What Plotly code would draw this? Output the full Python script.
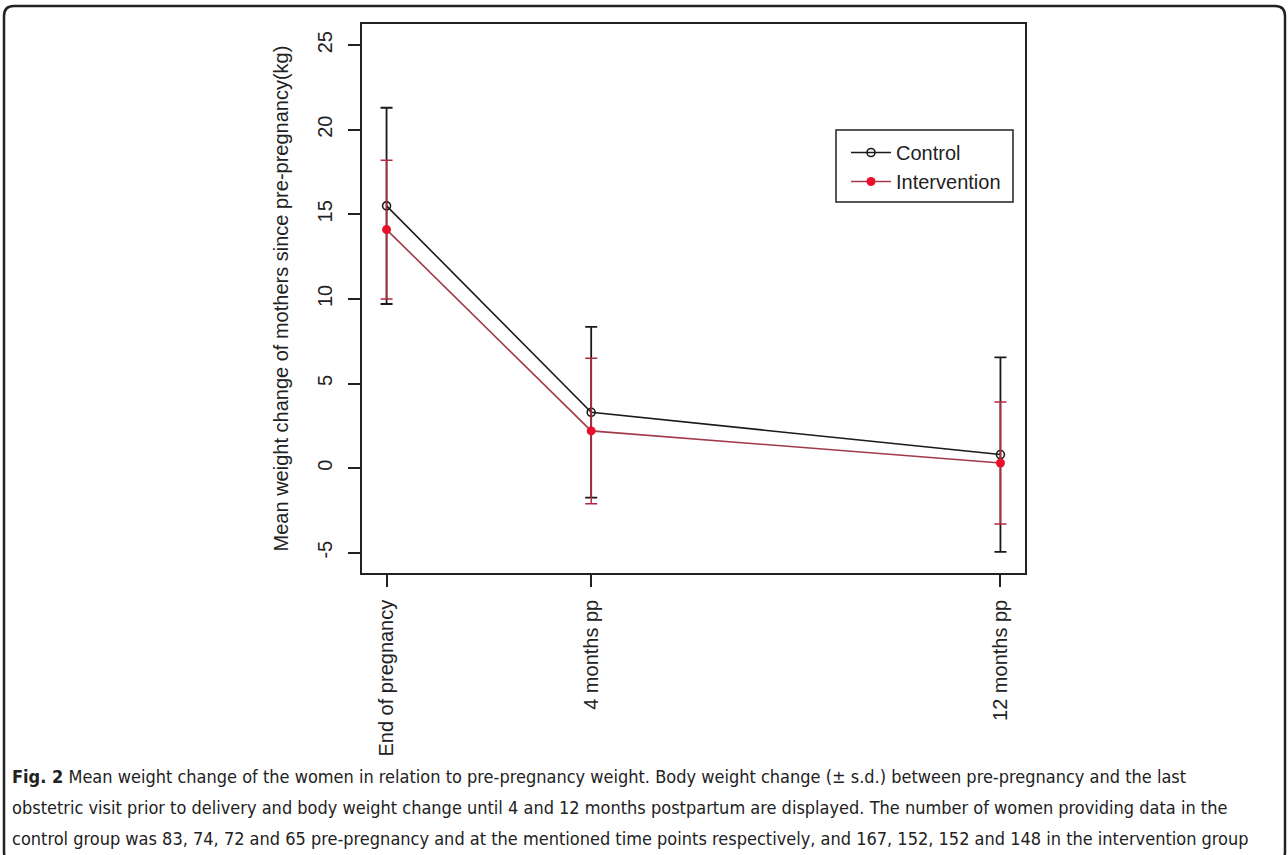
import plotly.graph_objects as go

# ---- data ----
time_months = [0, 4, 12]
tick_labels = ["End of pregnancy", "4 months pp", "12 months pp"]
control_mean = [15.5, 3.3, 0.8]
control_sd = [5.8, 5.05, 5.75]
intervention_mean = [14.1, 2.2, 0.3]
intervention_sd = [4.1, 4.3, 3.6]
y_ticks = [-5, 0, 5, 10, 15, 20, 25]

W, H = 1288, 855
L, R, T, B = 362, 1025, 24, 573  # plot area in pixels


def px(x):
    return (x - L) / (R - L)


def py(y):
    return (B - y) / (B - T)


FONT = "Liberation Sans, Arial, sans-serif"
CTRL = "#1a1a1a"
INT_LINE = "#a23a48"
INT_ERR = "#b5293f"

fig = go.Figure()
fig.add_trace(go.Scatter(
    x=time_months, y=control_mean, name="Control", mode="lines+markers",
    line=dict(color=CTRL, width=1.6),
    marker=dict(symbol="circle-open", size=8, color=CTRL, line=dict(width=1.6)),
    error_y=dict(type="data", array=control_sd, visible=True, color=CTRL,
                 thickness=1.8, width=6),
))
fig.add_trace(go.Scatter(
    x=time_months, y=intervention_mean, name="Intervention", mode="lines+markers",
    line=dict(color=INT_LINE, width=1.6),
    marker=dict(symbol="circle", size=9, color="#e8102a"),
    error_y=dict(type="data", array=intervention_sd, visible=True, color=INT_ERR,
                 thickness=1.5, width=6),
))

# outer rounded frame
fl, ft, fr, fb, r = 4, 6, 1285, 862, 10
path = (f"M {px(fl)} {py(ft + r)} Q {px(fl)} {py(ft)} {px(fl + r)} {py(ft)} "
        f"L {px(fr - r)} {py(ft)} Q {px(fr)} {py(ft)} {px(fr)} {py(ft + r)} "
        f"L {px(fr)} {py(fb - r)} Q {px(fr)} {py(fb)} {px(fr - r)} {py(fb)} "
        f"L {px(fl + r)} {py(fb)} Q {px(fl)} {py(fb)} {px(fl)} {py(fb - r)} Z")
shapes = [
    dict(type="path", xref="paper", yref="paper", path=path,
         line=dict(color="#222222", width=2.5), layer="above"),
    # legend box
    dict(type="rect", xref="paper", yref="paper",
         x0=px(836), x1=px(1013), y0=py(130), y1=py(202),
         line=dict(color="#222222", width=1.5)),
]

caption_lines = [
    "<b>Fig. 2</b> Mean weight change of the women in relation to pre-pregnancy weight. Body weight change (± s.d.) between pre-pregnancy and the last",
    "obstetric visit prior to delivery and body weight change until 4 and 12 months postpartum are displayed. The number of women providing data in the",
    "control group was 83, 74, 72 and 65 pre-pregnancy and at the mentioned time points respectively, and 167, 152, 152 and 148 in the intervention group",
]
caption_y = [776, 807, 838]
annotations = []
for line, yy in zip(caption_lines, caption_y):
    annotations.append(dict(
        text=line, xref="paper", yref="paper", x=px(10), y=py(yy),
        xanchor="left", yanchor="middle", showarrow=False, align="left",
        font=dict(family="DejaVu Sans Condensed, sans-serif",
                  size=18, color="#222222"),
    ))

fig.update_layout(
    width=W, height=H,
    margin=dict(l=L, r=W - R, t=T, b=H - B, autoexpand=False),
    paper_bgcolor="white", plot_bgcolor="white",
    font=dict(family=FONT, size=20, color="#222222"),
    showlegend=True,
    legend=dict(x=px(846), y=py(133), xanchor="left", yanchor="top",
                bgcolor="rgba(0,0,0,0)", borderwidth=0, itemwidth=40,
                font=dict(size=20), tracegroupgap=0, itemsizing="trace"),
    xaxis=dict(range=[-0.48, 12.48], tickvals=time_months, ticktext=tick_labels,
               tickangle=-90, ticks="outside", ticklen=12, tickwidth=1.5,
               tickcolor="#222222", showline=True, mirror=True, linecolor="#222222",
               linewidth=1.5, showgrid=False, zeroline=False, automargin=False,
               tickfont=dict(size=20), ticklabelstandoff=5),
    yaxis=dict(range=[-6.2, 26.25], tickvals=y_ticks, ticktext=[str(v) for v in y_ticks],
               tickangle=-90, ticks="outside", ticklen=12, tickwidth=1.5,
               tickcolor="#222222", showline=True, mirror=True, linecolor="#222222",
               linewidth=1.5, showgrid=False, zeroline=False, automargin=False,
               tickfont=dict(size=20), ticklabelstandoff=8,
               title=dict(text="Mean weight change of mothers since pre-pregnancy(kg)",
                          font=dict(size=20), standoff=20)),
    shapes=shapes, annotations=annotations,
)

fig.write_html("out.html", config={"displayModeBar": False},
               post_script="document.body.style.margin='0px';")
